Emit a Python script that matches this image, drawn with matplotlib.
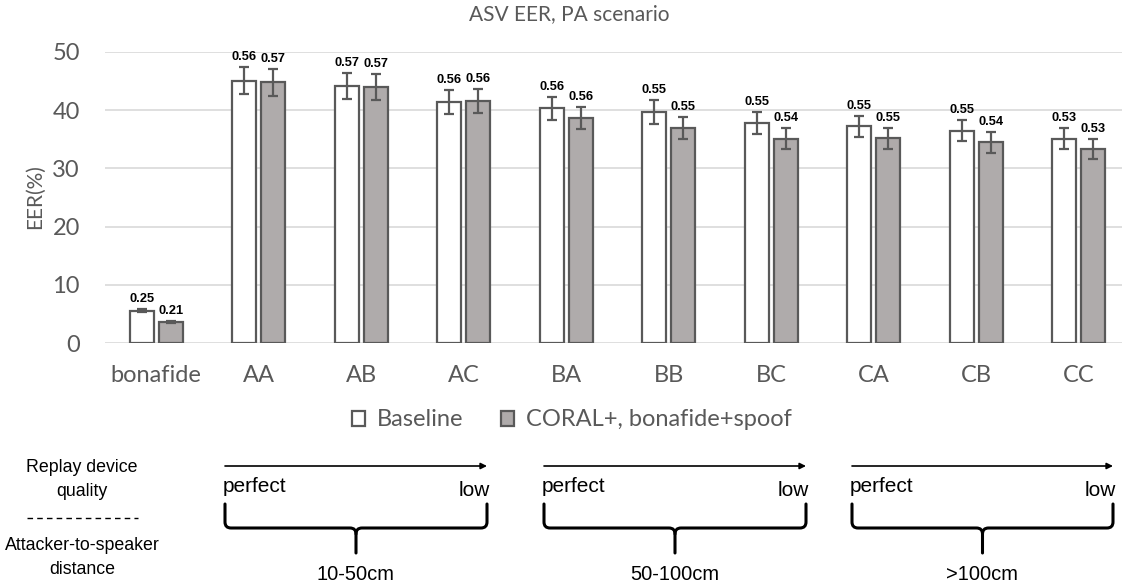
import numpy as np
import matplotlib
matplotlib.use('Agg')
from matplotlib import pyplot as plt
from matplotlib.path import Path
from matplotlib.patches import PathPatch, Patch

# data
categories = ['bonafide', 'AA', 'AB', 'AC', 'BA', 'BB', 'BC', 'CA', 'CB', 'CC']
baseline = [5.55, 45.1, 44.2, 41.4, 40.3, 39.7, 37.8, 37.2, 36.5, 35.1]
baseline_err = [0.25, 2.25, 2.2, 2.1, 2.0, 2.0, 1.9, 1.85, 1.85, 1.8]
baseline_lbl = ['0.25', '0.56', '0.57', '0.56', '0.56', '0.55', '0.55', '0.55', '0.55', '0.53']
coral = [3.65, 44.8, 44.0, 41.6, 38.6, 36.9, 35.1, 35.2, 34.5, 33.4]
coral_err = [0.2, 2.3, 2.2, 2.1, 1.9, 1.85, 1.8, 1.8, 1.8, 1.7]
coral_lbl = ['0.21', '0.57', '0.57', '0.56', '0.56', '0.55', '0.54', '0.55', '0.54', '0.53']

groups = ['10-50cm', '50-100cm', '>100cm']
group_span = [(225, 487), (544, 806), (852, 1113)]

W, H = 1122, 585
grey = '#595959'
fill_grey = '#AFABAB'
axfont = ['Lato', 'DejaVu Sans']
arial = ['Liberation Sans', 'DejaVu Sans']

fig = plt.figure(figsize=(W / 100, H / 100), dpi=100)
fig.patch.set_facecolor('white')

# main axes in pixel units of the figure
left, right, top, bottom = 105, 1130, 52, 343
ax = fig.add_axes([left / W, 1 - bottom / H, (right - left) / W, (bottom - top) / H])

x = np.arange(len(categories))
bw = 0.234
off = 0.141
ekw = dict(ecolor=grey, elinewidth=1.6, capsize=3.5, capthick=1.6)
ax.bar(x - off, baseline, bw, yerr=baseline_err, color='white', edgecolor=grey,
       linewidth=1.6, error_kw=ekw, zorder=3, label='Baseline')
ax.bar(x + off, coral, bw, yerr=coral_err, color=fill_grey, edgecolor=grey,
       linewidth=1.6, error_kw=ekw, zorder=3, label='CORAL+, bonafide+spoof')

for i in range(len(categories)):
    ax.text(x[i] - off, baseline[i] + baseline_err[i] + 0.7, baseline_lbl[i],
            ha='center', va='bottom', fontsize=9.3, fontweight='bold', family=arial)
    ax.text(x[i] + off, coral[i] + coral_err[i] + 0.7, coral_lbl[i],
            ha='center', va='bottom', fontsize=9.3, fontweight='bold', family=arial)

ax.set_xlim(-0.5, len(categories) - 0.5)
ax.set_ylim(0, 50)
ax.set_yticks([0, 10, 20, 30, 40, 50])
ax.yaxis.grid(True, color='#D9D9D9', linewidth=1.2, zorder=0)
ax.set_axisbelow(True)
for s in ax.spines.values():
    s.set_visible(False)
ax.tick_params(axis='both', length=0, colors=grey, labelsize=17)
ax.tick_params(axis='y', pad=18)
ax.tick_params(axis='x', pad=16)
ax.set_xticks(x)
ax.set_xticklabels(categories)
for t in ax.get_xticklabels() + ax.get_yticklabels():
    t.set_family(axfont)

fig.text(35 / W, 1 - 197 / H, 'EER(%)', rotation=90, ha='center', va='center',
         fontsize=15, color=grey, family=axfont)
fig.text(569 / W, 1 - 14 / H, 'ASV EER, PA scenario', ha='center', va='center',
         fontsize=15, color=grey, family=axfont)

handles = [Patch(facecolor='white', edgecolor=grey, linewidth=1.6),
           Patch(facecolor=fill_grey, edgecolor=grey, linewidth=1.6)]
fig.legend(handles, ['Baseline', 'CORAL+, bonafide+spoof'], loc='center',
           bbox_to_anchor=(572 / W, 1 - 420 / H), ncol=2, frameon=False,
           prop={'family': axfont, 'size': 17}, handlelength=0.55, handleheight=0.6,
           handletextpad=0.5, columnspacing=1.6, labelcolor=grey)

# overlay in pixel coordinates for the annotation below the chart
ov = fig.add_axes([0, 0, 1, 1], zorder=5)
ov.set_xlim(0, W)
ov.set_ylim(H, 0)
ov.axis('off')
ov.patch.set_alpha(0)

side = dict(ha='center', va='center', fontsize=12.8, family=arial)
ov.text(82, 468, 'Replay device', **side)
ov.text(82, 492, 'quality', **side)
ov.plot([27, 138], [518, 518], color='black', linewidth=1, linestyle=(0, (4, 3)))
ov.text(82, 545, 'Attacker-to-speaker', **side)
ov.text(82, 569, 'distance', **side)

for (x0, x1), g in zip(group_span, groups):
    xc = (x0 + x1) / 2
    ov.annotate('', xy=(x1, 466), xytext=(x0, 466),
                arrowprops=dict(arrowstyle='-|>', color='black', lw=1.2,
                                mutation_scale=9, shrinkA=0, shrinkB=0))
    ov.text(x0 - 2, 487, 'perfect', ha='left', va='center', fontsize=15, family=arial)
    ov.text(x1 + 3, 491, 'low', ha='right', va='center', fontsize=15, family=arial)
    # curly brace
    yt, ym, yb, r = 504, 528, 553, 6
    verts = [(x0, yt), (x0, ym - r), (x0, ym), (x0 + r, ym),
             (xc - r, ym), (xc, ym), (xc, ym + r), (xc, yb)]
    codes = [Path.MOVETO, Path.LINETO, Path.CURVE3, Path.CURVE3,
             Path.LINETO, Path.CURVE3, Path.CURVE3, Path.LINETO]
    ov.add_patch(PathPatch(Path(verts, codes), fill=False, lw=2.2, edgecolor='black',
                           capstyle='round', joinstyle='round'))
    verts = [(x1, yt), (x1, ym - r), (x1, ym), (x1 - r, ym),
             (xc + r, ym), (xc, ym), (xc, ym + r)]
    codes = [Path.MOVETO, Path.LINETO, Path.CURVE3, Path.CURVE3,
             Path.LINETO, Path.CURVE3, Path.CURVE3]
    ov.add_patch(PathPatch(Path(verts, codes), fill=False, lw=2.2, edgecolor='black',
                           capstyle='round', joinstyle='round'))
    ov.text(xc, 575, g, ha='center', va='center', fontsize=14.5, family=arial)

fig.savefig('out.png', dpi=100)
